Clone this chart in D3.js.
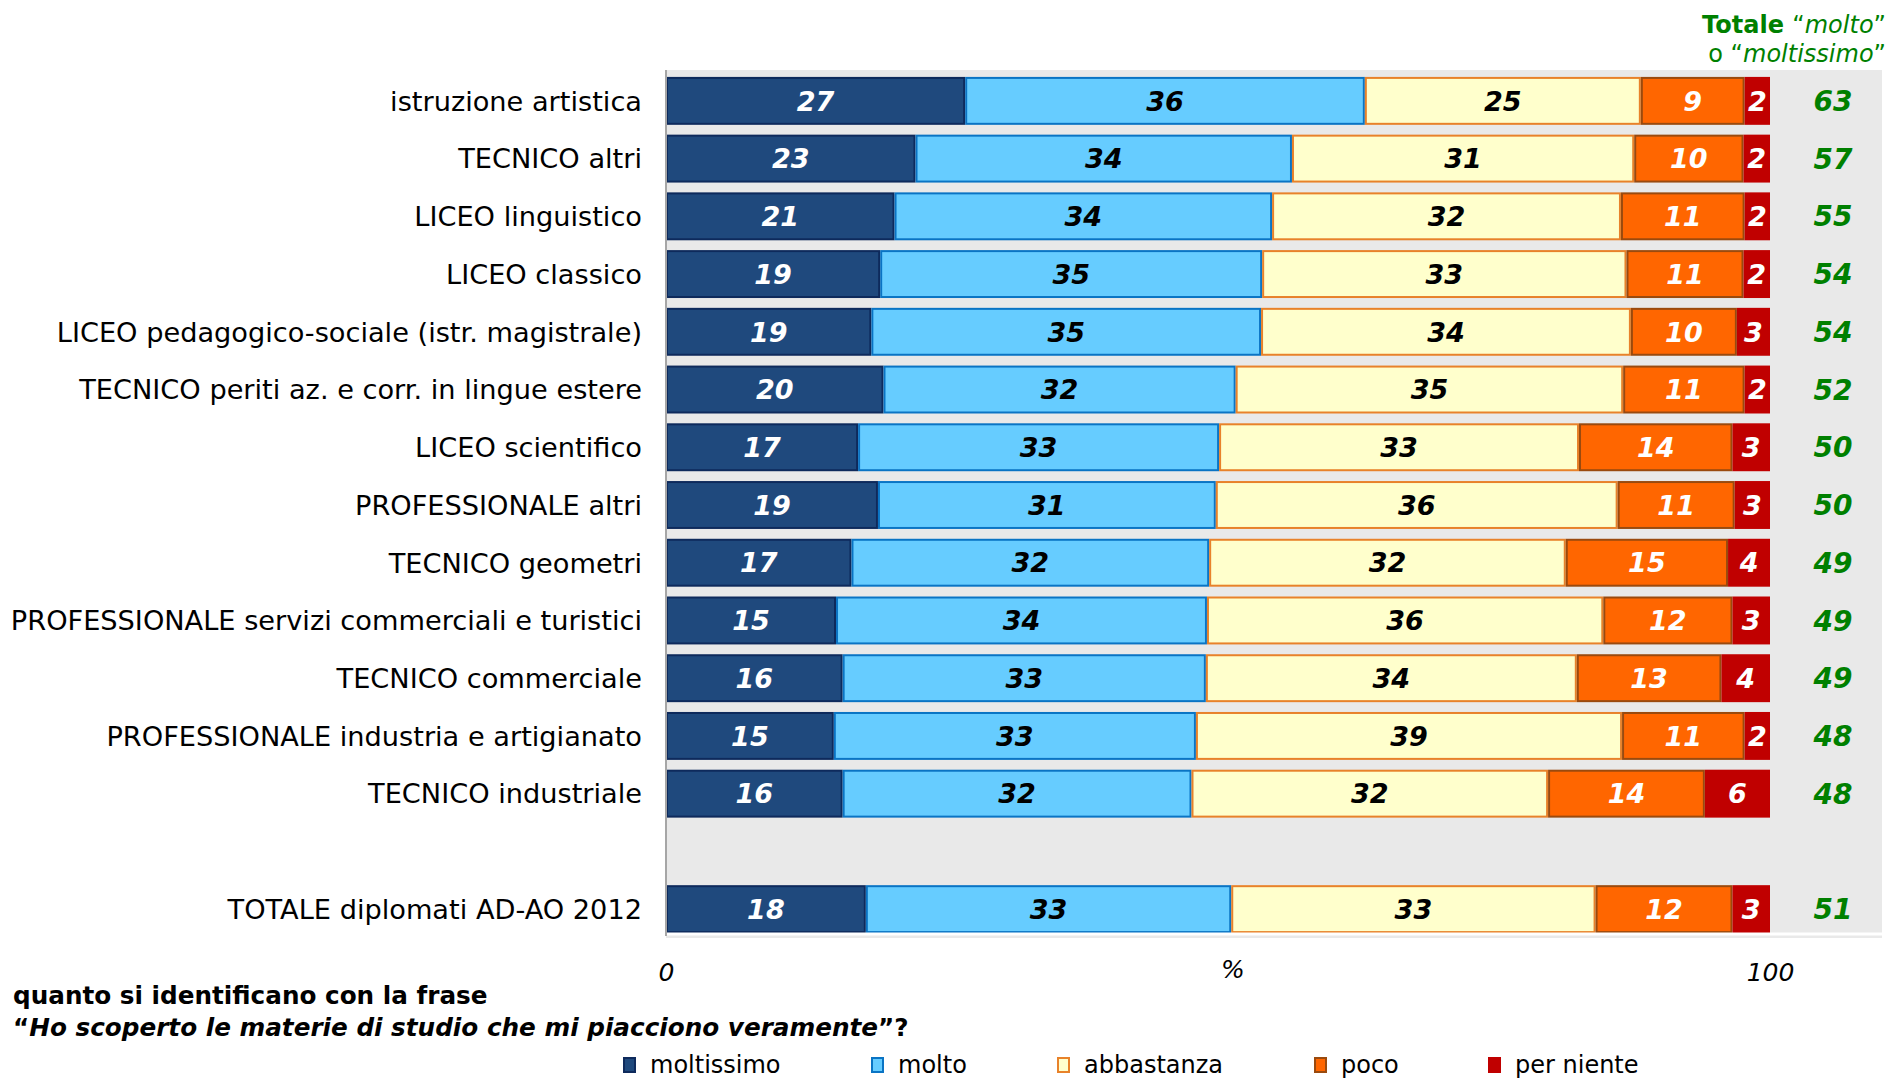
<!DOCTYPE html>
<html>
<head>
<meta charset="utf-8">
<script src="https://cdn.jsdelivr.net/npm/d3@7"></script>
<style>
  html, body { margin: 0; padding: 0; background: #ffffff; }
  svg { display: block; font-family: "DejaVu Sans", Verdana, sans-serif; }
</style>
</head>
<body>
<svg id="chart" width="1892" height="1080"></svg>
<script>
// Rows, top to bottom (the total row is drawn after a blank slot)
const schoolTypes = [
  "istruzione artistica",
  "TECNICO altri",
  "LICEO linguistico",
  "LICEO classico",
  "LICEO pedagogico-sociale (istr. magistrale)",
  "TECNICO periti az. e corr. in lingue estere",
  "LICEO scientifico",
  "PROFESSIONALE altri",
  "TECNICO geometri",
  "PROFESSIONALE servizi commerciali e turistici",
  "TECNICO commerciale",
  "PROFESSIONALE industria e artigianato",
  "TECNICO industriale",
  "TOTALE diplomati AD-AO 2012"
];

// Percentages per answer, same order as schoolTypes
const moltissimo = [27.1, 22.6, 20.7, 19.4, 18.6, 19.7, 17.4, 19.2, 16.8, 15.4, 16.0, 15.2, 16.0, 18.1];
const molto      = [36.2, 34.1, 34.2, 34.6, 35.3, 31.9, 32.7, 30.6, 32.4, 33.6, 32.9, 32.8, 31.6, 33.1];
const abbastanza = [25.0, 31.0, 31.6, 33.0, 33.5, 35.1, 32.6, 36.4, 32.3, 35.9, 33.6, 38.6, 32.3, 33.0];
const poco       = [ 9.4,  9.9, 11.2, 10.6,  9.6, 11.0, 13.9, 10.6, 14.7, 11.7, 13.1, 11.1, 14.2, 12.4];
const perNiente  = [ 2.3,  2.4,  2.3,  2.4,  3.0,  2.3,  3.4,  3.2,  3.8,  3.4,  4.4,  2.3,  5.9,  3.4];

const answerKeys   = ["moltissimo", "molto", "abbastanza", "poco", "per niente"];
const answerFill   = ["#1F497D", "#66CCFF", "#FFFFCC", "#FF6600", "#C00000"];
const answerStroke = ["#0E2A5C", "#0A74C4", "#E8822A", "#9A4A0E", "#C00000"];
const answerText   = ["#ffffff", "#000000", "#000000", "#ffffff", "#ffffff"];

const axisTicks = [0, 100];
const gapKey = "\u00a0";

const rows = schoolTypes.map((name, i) => ({
  name,
  "moltissimo": moltissimo[i],
  "molto": molto[i],
  "abbastanza": abbastanza[i],
  "poco": poco[i],
  "per niente": perNiente[i]
}));

const svg = d3.select("#chart");

const plot = { left: 666, right: 1882, top: 70, bottom: 936 };
const xEnd = 1770;

const rowOrder = [...schoolTypes.slice(0, 13), gapKey, schoolTypes[13]];

const x = d3.scaleLinear().domain([0, 100]).range([plot.left, xEnd]);
const y = d3.scaleBand().domain(rowOrder).range([plot.top + 2, plot.bottom + 2]).paddingInner(0.17).paddingOuter(0.085);

// Plot background
svg.append("rect")
  .attr("x", plot.left).attr("y", plot.top)
  .attr("width", plot.right - plot.left).attr("height", plot.bottom - plot.top + 2)
  .attr("fill", "#E9E9E9");

// Stacked bars
const stacked = d3.stack().keys(answerKeys)(rows);

const layers = svg.append("g").selectAll("g")
  .data(stacked)
  .join("g");

layers.selectAll("rect")
  .data((layer, k) => layer.map(d => ({ d, k })))
  .join("rect")
  .attr("x", o => x(o.d[0]) + 1)
  .attr("y", o => y(o.d.data.name) + 1)
  .attr("width", o => Math.max(0, x(o.d[1]) - x(o.d[0]) - 2))
  .attr("height", y.bandwidth() - 2)
  .attr("fill", o => answerFill[o.k])
  .attr("stroke", o => answerStroke[o.k])
  .attr("stroke-width", 2);

const fmt = d3.format(".0f");

layers.selectAll("text")
  .data((layer, k) => layer.map(d => ({ d, k })))
  .join("text")
  .attr("x", o => (x(o.d[0]) + x(o.d[1])) / 2)
  .attr("y", o => y(o.d.data.name) + y.bandwidth() / 2)
  .attr("dy", "0.36em")
  .attr("text-anchor", "middle")
  .attr("font-size", 27)
  .attr("font-weight", "bold")
  .attr("font-style", "italic")
  .attr("fill", o => answerText[o.k])
  .text(o => fmt(o.d[1] - o.d[0]));

// Category labels
svg.append("g").selectAll("text")
  .data(rows)
  .join("text")
  .attr("x", 642)
  .attr("y", d => y(d.name) + y.bandwidth() / 2)
  .attr("dy", "0.36em")
  .attr("text-anchor", "end")
  .attr("font-size", 27.2)
  .attr("fill", "#000")
  .text(d => d.name);

// Totals "molto" + "moltissimo"
svg.append("g").selectAll("text")
  .data(rows)
  .join("text")
  .attr("x", 1833)
  .attr("y", d => y(d.name) + y.bandwidth() / 2)
  .attr("dy", "0.36em")
  .attr("text-anchor", "middle")
  .attr("font-size", 28)
  .attr("font-weight", "bold")
  .attr("font-style", "italic")
  .attr("fill", "#008000")
  .text(d => fmt(d["moltissimo"] + d["molto"]));

// Axis lines
svg.append("line")
  .attr("x1", plot.left).attr("x2", plot.right)
  .attr("y1", plot.bottom - 2).attr("y2", plot.bottom - 2)
  .attr("stroke", "#ffffff").attr("stroke-width", 3);
svg.append("line")
  .attr("x1", plot.left).attr("x2", plot.left)
  .attr("y1", plot.top).attr("y2", plot.bottom)
  .attr("stroke", "#A6A6A6").attr("stroke-width", 2);

// Bottom axis tick labels
const xAxis = d3.axisBottom(x).tickValues(axisTicks).tickSize(0).tickFormat(d3.format("d"));
const axisG = svg.append("g")
  .attr("transform", `translate(0, ${plot.bottom + 24})`)
  .call(xAxis);
axisG.select(".domain").remove();
axisG.selectAll("text")
  .attr("font-family", "DejaVu Sans, Verdana, sans-serif")
  .attr("font-size", 25)
  .attr("font-style", "italic")
  .attr("fill", "#000");

svg.append("text")
  .attr("x", 1233).attr("y", 978)
  .attr("text-anchor", "middle")
  .attr("font-size", 25)
  .attr("font-style", "italic")
  .text("%");

// Header above totals column
const head = svg.append("g").attr("fill", "#008000").attr("font-size", 24);
const h1 = head.append("text").attr("x", 1886).attr("y", 33).attr("text-anchor", "end");
h1.append("tspan").attr("font-weight", "bold").text("Totale ");
h1.append("tspan").text("\u201c");
h1.append("tspan").attr("font-style", "italic").text("molto");
h1.append("tspan").text("\u201d");
const h2 = head.append("text").attr("x", 1886).attr("y", 62).attr("text-anchor", "end");
h2.append("tspan").text("o \u201c");
h2.append("tspan").attr("font-style", "italic").text("moltissimo");
h2.append("tspan").text("\u201d");

// Question text
const q = svg.append("g").attr("font-size", 24.7).attr("font-weight", "bold").attr("fill", "#000");
q.append("text").attr("x", 13).attr("y", 1004).text("quanto si identificano con la frase");
const q2 = q.append("text").attr("x", 13).attr("y", 1036);
q2.append("tspan").text("\u201c");
q2.append("tspan").attr("font-style", "italic").text("Ho scoperto le materie di studio che mi piacciono veramente");
q2.append("tspan").text("\u201d?");

// Legend
const legendX = [623, 871, 1057, 1314, 1488];
const legend = svg.append("g").selectAll("g")
  .data(answerKeys)
  .join("g")
  .attr("transform", (d, i) => `translate(${legendX[i]}, 1057)`);
legend.append("rect")
  .attr("x", 1).attr("y", 1)
  .attr("width", 11).attr("height", 14)
  .attr("fill", (d, i) => answerFill[i])
  .attr("stroke", (d, i) => answerStroke[i])
  .attr("stroke-width", 2);
legend.append("text")
  .attr("x", 27).attr("y", 16)
  .attr("font-size", 24)
  .attr("fill", "#000")
  .text(d => d);
</script>
</body>
</html>
